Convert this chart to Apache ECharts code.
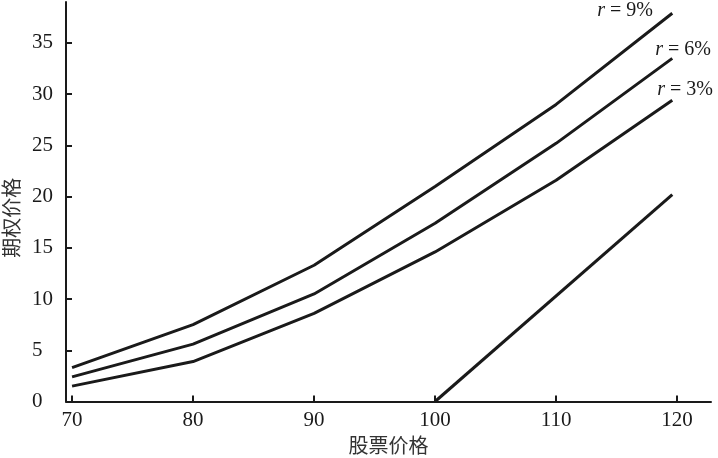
<!DOCTYPE html>
<html>
<head>
<meta charset="utf-8">
<script src="https://cdn.jsdelivr.net/npm/echarts@6/dist/echarts.min.js"></script>
<style>
html,body{margin:0;padding:0;background:#fff;}
#c{width:718px;height:458px;}
</style>
</head>
<body>
<div id="c"></div>
<script>
var stockPrices = [70, 80, 90, 100, 110, 119.6];
var r9 = [3.3, 7.5, 13.3, 21.0, 29.0, 37.9];
var r6 = [2.4, 5.6, 10.5, 17.4, 25.2, 33.5];
var r3 = [1.5, 3.9, 8.6, 14.6, 21.6, 29.4];
var intrinsicX = [100, 119.6];
var intrinsicY = [0, 20.2];
var xTicks = [70, 80, 90, 100, 110, 120];
var yTicks = [0, 5, 10, 15, 20, 25, 30, 35];
var seriesNames = ['r = 9%', 'r = 6%', 'r = 3%'];

function pairs(xs, ys) { return xs.map(function (x, i) { return [x, ys[i]]; }); }

var serif = 'Liberation Serif';
var lineColor = '#1a1a1a';

function lineSeries(name, ys, offset) {
  return {
    type: 'line', name: name, data: pairs(stockPrices, ys),
    symbol: 'none', lineStyle: { color: lineColor, width: 3 },
    endLabel: {
      show: true, distance: 0, offset: offset, align: 'left', verticalAlign: 'middle',
      formatter: function () { return '{i|r} = ' + name.split('= ')[1]; },
      fontFamily: serif, fontSize: 20, color: '#1a1a1a',
      rich: { i: { fontStyle: 'italic', fontFamily: serif, fontSize: 20, color: '#1a1a1a' } }
    },
    animation: false
  };
}

var chart = echarts.init(document.getElementById('c'));
chart.setOption({
  backgroundColor: '#fff',
  animation: false,
  grid: { left: 66, right: 7, top: 2, bottom: 56.5, containLabel: false, outerBoundsMode: 'none' },
  xAxis: {
    type: 'value', min: 69.5, max: 122.8,
    name: '股票价格', nameLocation: 'middle', nameGap: 33,
    nameTextStyle: { fontFamily: 'Noto Sans CJK SC', fontSize: 20, color: '#333' },
    axisLine: { show: true, lineStyle: { color: '#1a1a1a', width: 2 } },
    axisTick: { show: true, inside: true, length: 6, customValues: xTicks, lineStyle: { color: '#1a1a1a', width: 2 } },
    axisLabel: { customValues: xTicks, fontFamily: serif, fontSize: 21, color: '#1a1a1a', margin: 8 },
    splitLine: { show: false }
  },
  yAxis: {
    type: 'value', min: 0, max: 39,
    name: '期权价格', nameLocation: 'middle', nameRotate: 90, nameGap: 43,
    nameTextStyle: { fontFamily: 'Noto Sans CJK SC', fontSize: 20, color: '#333', padding: [0, 32, 0, 0] },
    axisLine: { show: true, lineStyle: { color: '#1a1a1a', width: 2 } },
    axisTick: { show: true, inside: true, length: 6, customValues: yTicks, lineStyle: { color: '#1a1a1a', width: 2 } },
    axisLabel: { customValues: yTicks, fontFamily: serif, fontSize: 21, color: '#1a1a1a', align: 'left', margin: 34 },
    splitLine: { show: false }
  },
  series: [
    lineSeries(seriesNames[0], r9, [-75, -3]),
    lineSeries(seriesNames[1], r6, [-17, -9]),
    lineSeries(seriesNames[2], r3, [-15, -11]),
    { type: 'line', data: pairs(intrinsicX, intrinsicY), symbol: 'none',
      lineStyle: { color: lineColor, width: 3 }, animation: false }
  ]
});
</script>
</body>
</html>
